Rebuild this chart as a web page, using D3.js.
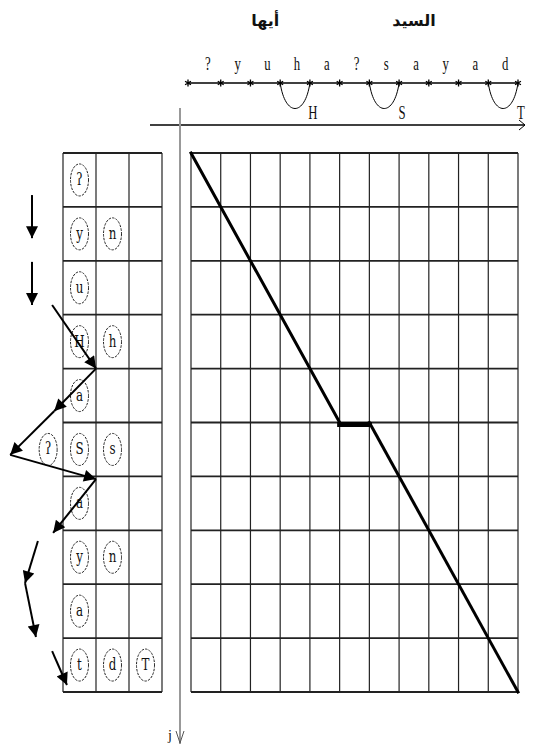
<!DOCTYPE html>
<meta charset="utf-8">
<title>DTW alignment</title>
<style>
  body { margin: 0; background: #fff; }
  text { font-family: "Liberation Serif", "DejaVu Serif", serif; fill: #111; }
  .grid line { stroke: #222; }
</style>
<body>
<svg width="534" height="744"></svg>
<script src="https://d3js.org/d3.v7.min.js"></script>
<script>

// input symbols (columns) and the words above them
var topChars = ["?", "y", "u", "h", "a", "?", "s", "a", "y", "a", "d"];
var words = [{ text: "أيها", at: 2.5 }, { text: "السيد", at: 7.5 }];
var merges = [{ col: 3, label: "H" }, { col: 6, label: "S" }, { col: 10, label: "T" }];

// states (rows) with their candidate symbols
var rowChars = [["ʔ"], ["y", "n"], ["u"], ["H", "h"], ["a"], ["S", "s"], ["a"], ["y", "n"], ["a"], ["t", "d", "T"]];
var extraCircle = { u: -0.45, v: 5.5, label: "ʔ" };

// best path through the grid (column, row)
var pathPts = [[0, 0], [5, 5], [6, 5], [11, 10]];

// transitions drawn left of the table, in table units (u = column, v = row)
var arrows = [
  [[-0.94, 0.78], [-0.94, 1.58]],
  [[-0.94, 2.02], [-0.94, 2.82]],
  [[-0.33, 2.82], [1, 4]],
  [[1, 4], [-0.27, 4.79]],
  [[-0.27, 4.79], [-1.6, 5.6]],
  [[-1.6, 5.6], [1, 6.05]],
  [[1, 6.05], [-0.3, 7.05]],
  [[-0.76, 7.2], [-1.15, 7.98]],
  [[-1.15, 7.98], [-0.82, 8.98]],
  [[-0.33, 9.24], [0.12, 9.87]]
];

var svg = d3.select("svg");

var x = d3.scaleLinear().domain([0, topChars.length]).range([191, 518]);
var y = d3.scaleLinear().domain([0, rowChars.length]).range([153, 692]);
var tx = d3.scaleLinear().domain([0, 3]).range([63, 162]);

svg.append("defs").append("marker")
  .attr("id", "head")
  .attr("viewBox", "0 0 10 10")
  .attr("refX", 10).attr("refY", 5)
  .attr("markerWidth", 15).attr("markerHeight", 12)
  .attr("markerUnits", "userSpaceOnUse")
  .attr("orient", "auto")
  .append("path").attr("d", "M0,0L10,5L0,10z").attr("fill", "#000");

// ---- top: words, symbols, segmentation line ----
svg.selectAll(".word").data(words).enter().append("text")
  .attr("x", function(d) { return x(d.at); })
  .attr("y", 26)
  .attr("text-anchor", "middle")
  .style("font-family", "DejaVu Sans")
  .style("font-weight", "bold")
  .style("font-size", "16px")
  .text(function(d) { return d.text; });

svg.selectAll(".sym").data(topChars).enter().append("text")
  .attr("transform", function(d, i) { return "translate(" + (x(i + 0.5) + 2) + ",70) scale(0.85,1.2)"; })
  .attr("text-anchor", "middle")
  .style("font-size", "15px")
  .text(function(d) { return d; });

svg.append("line")
  .attr("x1", x(0) - 3).attr("x2", x(topChars.length))
  .attr("y1", 83).attr("y2", 83)
  .attr("stroke", "#000").attr("stroke-width", 1.5);

svg.selectAll(".star").data(d3.range(topChars.length + 1)).enter().append("path")
  .attr("transform", function(d) { return "translate(" + (x(d) - (d == 0 ? 3 : 0)) + ",83)"; })
  .attr("d", d3.symbol(d3.symbolAsterisk, 32))
  .attr("stroke", "#000").attr("stroke-width", 1.3).attr("fill", "none");

svg.selectAll(".merge").data(merges).enter().append("path")
  .attr("d", function(d) {
    var a = x(d.col), b = x(d.col + 1);
    return "M" + a + ",83C" + (a + 5) + ",117 " + (b - 5) + ",117 " + b + ",83";
  })
  .attr("fill", "none").attr("stroke", "#000").attr("stroke-width", 1);

svg.selectAll(".mlabel").data(merges).enter().append("text")
  .attr("transform", function(d) { return "translate(" + (x(d.col + 1) + 3) + ",119) scale(0.85,1.2)"; })
  .attr("text-anchor", "middle")
  .style("font-size", "15px")
  .text(function(d) { return d.label; });

// axes
svg.append("line").attr("x1", 150).attr("x2", 525).attr("y1", 125).attr("y2", 125)
  .attr("stroke", "#000").attr("stroke-width", 1.5);
svg.append("path").attr("d", "M519,120L525,125L519,130")
  .attr("fill", "none").attr("stroke", "#000").attr("stroke-width", 1);
svg.append("line").attr("x1", 180).attr("x2", 180).attr("y1", 108).attr("y2", 744)
  .attr("stroke", "#999").attr("stroke-width", 2);
svg.append("path").attr("d", "M176,731L180,743L184,731")
  .attr("fill", "none").attr("stroke", "#555").attr("stroke-width", 1);
svg.append("text").attr("x", 170).attr("y", 740).attr("text-anchor", "middle")
  .style("font-size", "14px").text("j");

// ---- right grid ----
var grid = svg.append("g").attr("class", "grid");
grid.selectAll(".v").data(d3.range(topChars.length + 1)).enter().append("line")
  .attr("x1", function(d) { return x(d); }).attr("x2", function(d) { return x(d); })
  .attr("y1", y(0)).attr("y2", y(rowChars.length))
  .attr("stroke-width", 1.2);
grid.selectAll(".h").data(d3.range(rowChars.length + 1)).enter().append("line")
  .attr("x1", x(0)).attr("x2", x(topChars.length))
  .attr("y1", function(d) { return y(d); }).attr("y2", function(d) { return y(d); })
  .attr("stroke-width", 1.8);

for (var k = 1; k < pathPts.length; k++) {
  var p = pathPts[k - 1], q = pathPts[k];
  var flat = p[1] == q[1];
  svg.append("line")
    .attr("x1", x(p[0])).attr("y1", y(p[1]) + (flat ? 2 : 0))
    .attr("x2", x(q[0])).attr("y2", y(q[1]) + (flat ? 2 : 0))
    .attr("stroke", "#000").attr("stroke-width", flat ? 5 : 3)
    .attr("stroke-linecap", "square");
}

// ---- left table ----
var table = svg.append("g").attr("class", "grid");
table.selectAll(".v").data(d3.range(4)).enter().append("line")
  .attr("x1", function(d) { return tx(d); }).attr("x2", function(d) { return tx(d); })
  .attr("y1", y(0)).attr("y2", y(rowChars.length))
  .attr("stroke-width", 1.2);
table.selectAll(".h").data(d3.range(rowChars.length + 1)).enter().append("line")
  .attr("x1", tx(0)).attr("x2", tx(3))
  .attr("y1", function(d) { return y(d); }).attr("y2", function(d) { return y(d); })
  .attr("stroke-width", 1.8);

var cells = [];
rowChars.forEach(function(r, i) {
  r.forEach(function(c, j) { cells.push({ u: j + 0.5, v: i + 0.5, label: c }); });
});
cells.push(extraCircle);

var circ = svg.selectAll(".cell").data(cells).enter().append("g")
  .attr("transform", function(d) { return "translate(" + tx(d.u) + "," + y(d.v) + ")"; });
circ.append("ellipse")
  .attr("rx", 9).attr("ry", 16)
  .attr("fill", "none").attr("stroke", "#222").attr("stroke-width", 1)
  .attr("stroke-dasharray", "2.5,1.2");
circ.append("text")
  .attr("transform", "translate(0,5) scale(0.85,1.15)")
  .attr("text-anchor", "middle")
  .style("font-size", "14px")
  .style("font-family", "'DejaVu Serif', serif")
  .text(function(d) { return d.label; });

svg.selectAll(".arrow").data(arrows).enter().append("line")
  .attr("x1", function(d) { return tx(d[0][0]); })
  .attr("y1", function(d) { return y(d[0][1]); })
  .attr("x2", function(d) { return tx(d[1][0]); })
  .attr("y2", function(d) { return y(d[1][1]); })
  .attr("stroke", "#000").attr("stroke-width", 2)
  .attr("marker-end", "url(#head)");

</script>
</body>
